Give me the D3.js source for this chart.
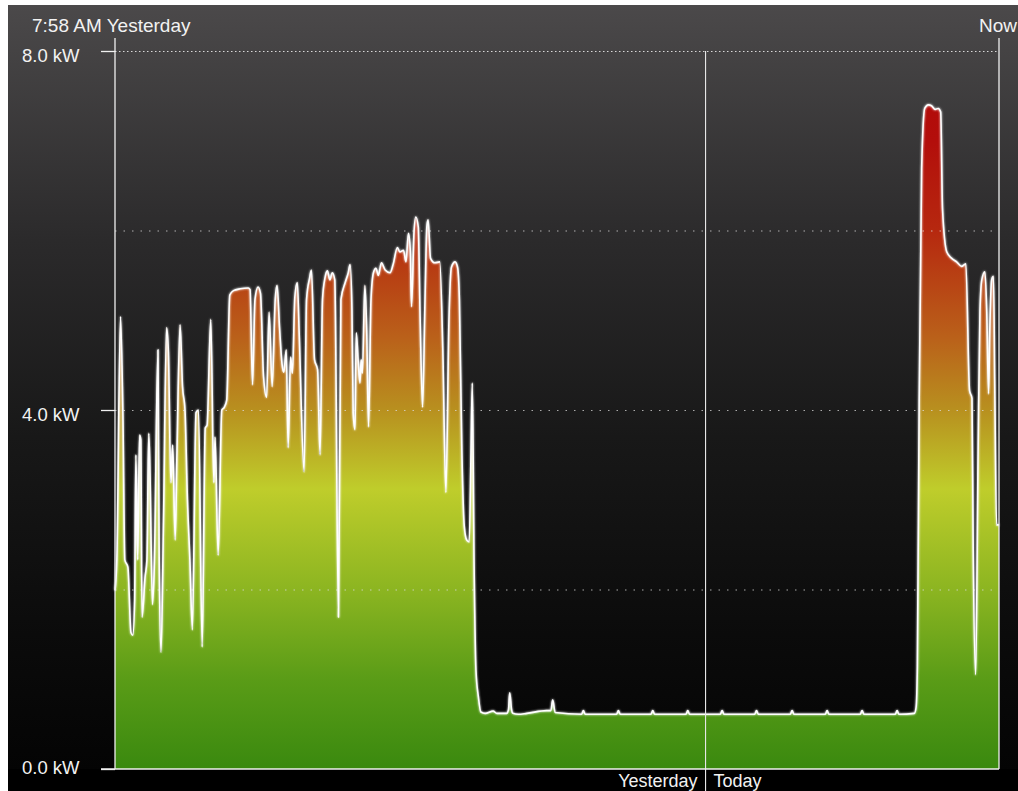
<!DOCTYPE html>
<html>
<head>
<meta charset="utf-8">
<script src="https://cdn.jsdelivr.net/npm/d3@7"></script>
<style>
  html, body { margin: 0; padding: 0; background: #ffffff; }
  svg { display: block; }
  text { font-family: "Liberation Sans", Arial, Helvetica, sans-serif; fill: #f2f2f2; }
</style>
</head>
<body>
<svg id="chart" width="1018" height="791"></svg>
<script>
// ---- data (minutes since 7:58 AM yesterday, power in kW) ----
const minutes = [
  0,3,9,13,16,21,26,29,32,34,37,40,42,44,49,52,55,57,61,64,70,72,75,79,84,87,91,94,98,101,
  106,110,114,118,122,126,132,136,142,147,150,156,161,163,168,174,178,182,187,193,204,217,220,224,228,233,237,242,247,251,
  256,261,264,268,272,275,279,282,286,289,293,297,300,308,312,317,320,325,330,334,338,342,346,350,354,358,364,368,375,380,
  383,386,388,391,393,396,399,401,403,407,410,413,417,421,425,429,434,440,448,453,460,464,470,474,478,481,483,487,490,494,
  497,501,505,508,510,514,521,529,534,539,544,548,554,558,561,565,569,573,577,580,582,585,588,592,596,603,616,622,638,641,
  643,646,648,657,671,703,710,713,717,
  760,763,766, 817,820,823, 873,876,879, 930,933,936, 986,989,992,
  1042,1045,1048, 1100,1103,1106, 1157,1160,1163, 1214,1217,1220, 1271,1274,1277,
  1302,1305,1307,1310,1314,1319,1325,1330,1336,1341,1345,1348,1355,1363,1371,1379,1386,1392,1396,1398,
  1402,1406,1409,1412,1417,1420,1423,1425,1428,1431,1433,1436,1440
];
const kw = [
  1.99,2.33,5.04,3.89,2.33,2.25,1.52,1.49,1.88,3.50,2.33,3.72,3.67,1.69,2.14,2.33,3.74,3.30,1.83,2.25,4.67,2.33,1.30,2.77,4.92,4.64,3.19,3.61,2.55,3.55,
  4.95,4.26,4.00,3.00,2.33,1.55,3.97,4.00,1.36,3.80,3.83,5.01,3.19,3.70,2.38,4.00,4.03,4.11,5.28,5.33,5.35,5.36,5.34,4.28,5.23,5.37,5.30,4.37,4.14,5.09,
  4.26,5.23,5.39,4.92,4.52,4.42,4.67,3.58,4.59,4.41,5.26,5.42,4.86,3.31,5.23,5.47,5.56,4.56,4.45,3.50,5.23,5.47,5.55,5.45,5.53,5.45,1.69,5.23,5.42,5.53,
  5.62,5.11,3.97,3.78,4.86,4.56,4.30,4.56,4.41,5.39,4.89,3.81,5.23,5.53,5.58,5.50,5.64,5.56,5.53,5.62,5.81,5.76,5.78,5.65,5.97,5.78,5.15,5.97,6.15,6.04,
  5.04,4.03,5.23,6.04,6.12,5.69,5.64,5.65,4.67,3.08,5.00,5.59,5.65,5.59,5.23,3.55,2.70,2.55,2.53,3.55,4.30,2.25,1.10,0.80,0.635,0.62,0.645,0.62,0.62,0.66,
  0.85,0.66,0.62,0.61,0.62,0.65,0.65,0.77,0.63,
  0.61,0.65,0.61, 0.61,0.65,0.61, 0.61,0.65,0.61, 0.61,0.65,0.61, 0.61,0.65,0.61,
  0.61,0.65,0.61, 0.61,0.65,0.61, 0.61,0.65,0.61, 0.61,0.65,0.61, 0.61,0.65,0.61,
  0.62,0.69,1.14,4.11,6.69,7.36,7.40,7.39,7.35,7.36,7.32,6.24,5.76,5.69,5.65,5.60,5.63,4.22,4.13,2.44,
  1.05,3.55,5.10,5.45,5.54,5.11,4.18,4.89,5.45,5.49,4.33,2.72,2.72
];
const gridValues = [2, 4, 6, 8];
const tickValues = [0, 4, 8];
const tickLabels = ["0.0 kW", "4.0 kW", "8.0 kW"];
const startLabel = "7:58 AM Yesterday";
const endLabel = "Now";
const midnightMinute = 962;      // midnight, minutes after 7:58 AM
const dayLabels = ["Yesterday", "Today"];
const totalMinutes = 1440;

const data = minutes.map((m, i) => ({ m, v: kw[i] }));

// ---- layout ----
const svg = d3.select("#chart");
const x = d3.scaleLinear().domain([0, totalMinutes]).range([115, 999]);
const y = d3.scaleLinear().domain([0, 8]).range([769, 51]);

const defs = svg.append("defs");
const bg = defs.append("linearGradient").attr("id", "bg")
  .attr("x1", 0).attr("y1", 0).attr("x2", 0).attr("y2", 1);
[[0, "#4b494a"], [0.3, "#2b2a2b"], [0.55, "#181818"], [0.8, "#0b0b0b"], [1, "#030303"]]
  .forEach(([o, c]) => bg.append("stop").attr("offset", o).attr("stop-color", c));

const fillG = defs.append("linearGradient").attr("id", "fillG")
  .attr("gradientUnits", "userSpaceOnUse")
  .attr("x1", 0).attr("x2", 0).attr("y1", y(0)).attr("y2", y(8));
[[0, "#3a890f"], [0.125, "#5a9c17"], [0.25, "#8cb521"], [0.39, "#bfcd2b"], [0.5, "#b8901f"],
 [0.6, "#ba611a"], [0.75, "#b6280f"], [0.875, "#b30e0b"], [1, "#b00808"]]
  .forEach(([o, c]) => fillG.append("stop").attr("offset", o).attr("stop-color", c));

const glow = defs.append("filter").attr("id", "glow").attr("x", "-5%").attr("y", "-5%").attr("width", "110%").attr("height", "110%");
glow.append("feGaussianBlur").attr("stdDeviation", 1.2).attr("result", "b");
const mg = glow.append("feMerge");
mg.append("feMergeNode").attr("in", "b");
mg.append("feMergeNode").attr("in", "SourceGraphic");

// background panel
svg.append("rect").attr("x", 8).attr("y", 5).attr("width", 1010).attr("height", 786).attr("fill", "url(#bg)");
svg.append("rect").attr("x", 8).attr("y", y(0)).attr("width", 1010).attr("height", 791 - y(0)).attr("fill", "#000");

// area
const area = d3.area().x(d => x(d.m)).y0(y(0)).y1(d => y(d.v)).curve(d3.curveMonotoneX);
svg.append("path").datum(data).attr("d", area).attr("fill", "url(#fillG)");

// grid lines (dotted)
svg.append("g").selectAll("line").data(gridValues).join("line")
  .attr("x1", x(0)).attr("x2", x(totalMinutes))
  .attr("y1", d => y(d) + 0.5).attr("y2", d => y(d) + 0.5)
  .attr("stroke", d => d === 8 ? "#d8d8d8" : "rgba(220,220,220,0.75)")
  .attr("stroke-width", 1.2)
  .attr("stroke-dasharray", d => d === 8 ? "1.5,2.5" : "1.5,7");

// line
const line = d3.line().x(d => x(d.m)).y(d => y(d.v)).curve(d3.curveMonotoneX);
svg.append("path").datum(data).attr("d", line)
  .attr("fill", "none").attr("stroke", "#ffffff").attr("stroke-width", 1.6)
  .attr("stroke-linejoin", "round").attr("filter", "url(#glow)");

// axes lines
svg.append("line").attr("x1", x(0)).attr("x2", x(0)).attr("y1", 38).attr("y2", y(0))
  .attr("stroke", "#f0f0f0").attr("stroke-width", 1.3);
svg.append("line").attr("x1", x(totalMinutes)).attr("x2", x(totalMinutes)).attr("y1", 38).attr("y2", y(0))
  .attr("stroke", "#f0f0f0").attr("stroke-width", 1.3);
svg.append("line").attr("x1", x(midnightMinute)).attr("x2", x(midnightMinute)).attr("y1", y(8)).attr("y2", 791)
  .attr("stroke", "#e8e8e8").attr("stroke-width", 1.1);
svg.append("line").attr("x1", 101).attr("x2", x(totalMinutes)).attr("y1", y(0)).attr("y2", y(0))
  .attr("stroke", "#f0f0f0").attr("stroke-width", 1.5);

// y ticks and labels
const yAxis = d3.axisLeft(y).tickValues(tickValues).tickSize(14).tickFormat((d, i) => tickLabels[i]);
const ga = svg.append("g").attr("transform", `translate(${x(0)},0)`).call(yAxis);
ga.select(".domain").remove();
ga.selectAll(".tick line").attr("stroke", "#f0f0f0").attr("stroke-width", 1.3);
ga.selectAll(".tick text")
  .attr("x", -93).attr("text-anchor", "start")
  .attr("dy", d => d === 0 ? "4px" : "10px")
  .attr("font-size", "18.5px").attr("fill", "#f2f2f2")
  .style("font-family", "'Liberation Sans', Arial, Helvetica, sans-serif");

// top labels
svg.append("text").attr("x", 32).attr("y", 32).attr("font-size", "19px").text(startLabel);
svg.append("text").attr("x", 1017).attr("y", 32).attr("font-size", "19px").attr("text-anchor", "end").text(endLabel);

// day labels (sit at the very bottom edge, as in the reference)
svg.append("text").attr("x", x(midnightMinute) - 8).attr("y", 787).attr("font-size", "18px")
  .attr("text-anchor", "end").text(dayLabels[0]);
svg.append("text").attr("x", x(midnightMinute) + 8).attr("y", 787).attr("font-size", "18px")
  .attr("text-anchor", "start").text(dayLabels[1]);
</script>
</body>
</html>
